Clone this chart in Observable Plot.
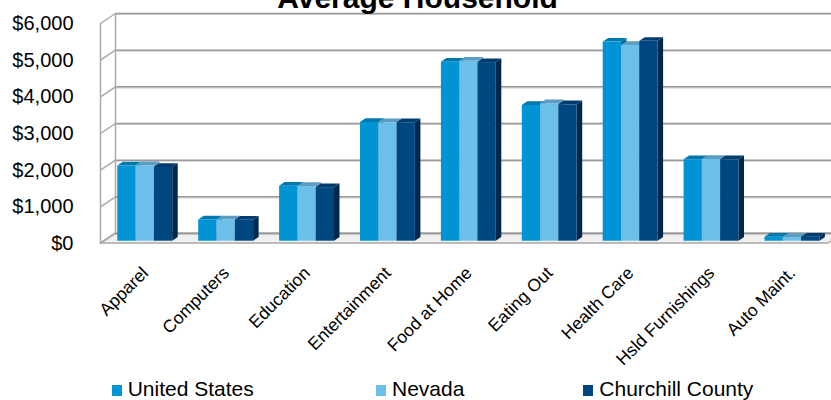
<!DOCTYPE html>
<html>
<head>
<meta charset="utf-8">
<script src="https://cdn.jsdelivr.net/npm/d3@7"></script>
<script src="https://cdn.jsdelivr.net/npm/@observablehq/plot@0.6"></script>
<style>
  html, body { margin: 0; padding: 0; background: #fff; overflow: hidden; }
  body { width: 831px; height: 400px; position: relative; font-family: "Liberation Sans", Arial, sans-serif; }
  #chart { position: absolute; left: 0; top: 0; }
  #title { position: absolute; left: 0; width: 835px; top: -17px; text-align: center;
           font-weight: bold; font-size: 30px; line-height: 30px; color: #000; }
  .key { position: absolute; top: 379px; font-size: 21px; line-height: 20px; color: #000; white-space: nowrap; }
  .key span { display: inline-block; width: 10px; height: 11px; margin-right: 6px; vertical-align: 0px; }
</style>
</head>
<body>
<div id="chart"></div>
<div id="title">Average Household</div>
<div id="legend"></div>
<script>
// Average household spending by category
const categories = ["Apparel", "Computers", "Education", "Entertainment", "Food at Home",
                    "Eating Out", "Health Care", "Hsld Furnishings", "Auto Maint."];
const unitedStates    = [2050, 580, 1500, 3240, 4880, 3700, 5430, 2220, 110];
const nevada          = [2060, 580, 1490, 3230, 4910, 3750, 5340, 2230, 100];
const churchillCounty = [2010, 570, 1460, 3230, 4870, 3720, 5450, 2220, 110];
const seriesNames = ["United States", "Nevada", "Churchill County"];
const yTicks = [0, 1000, 2000, 3000, 4000, 5000, 6000];

// Colours: front, top and side of each series' boxes
const palette = [
  {front: "#0094d4", top: "#0079ae", side: "#006a99"},
  {front: "#6cbfe8", top: "#5b9cc0", side: "#4f8cb0"},
  {front: "#004781", top: "#003c6d", side: "#00284d"}
];

// Scale geometry (pixels)
const xRange = [103.5, 831.6];           // category 0 .. 9 on the bar plane
const yRange = [240.7, 20.7];            // $0 .. $6,000 on the bar plane
const kx = (xRange[1] - xRange[0]) / 9;  // px per category
const ky = (yRange[0] - yRange[1]) / 6000; // px per dollar
const ux = px => px / kx;
const uy = px => px / ky;

// Box layout inside each category
const groupStart = ux(13.8);
const barW = ux(18.3);
const depthX = ux(5.5), depthY = uy(3.7);
// Offsets of the back wall and the front edge from the bar plane
const back = {dx: 11.5, dy: -7.7};
const front = {dx: -3.5, dy: 2.3};
const backX = ux(back.dx), backY = uy(-back.dy);
const frontX = ux(front.dx), frontY = -uy(front.dy);

const seriesValues = [unitedStates, nevada, churchillCounty];
const boxes = [];
seriesValues.forEach((vals, s) => {
  vals.forEach((v, i) => {
    const xl = i + groupStart + s * barW;
    boxes.push({s, i, category: categories[i], value: v, xl, xr: xl + barW});
  });
});

const tops = [], sides = [];
for (const b of boxes) {
  const id = b.s + "-" + b.i;
  tops.push({id, s: b.s, x1: b.xl, y1: b.value, x2: b.xl + depthX, y2: b.value + depthY});
  tops.push({id, s: b.s, x1: b.xr, y1: b.value, x2: b.xr + depthX, y2: b.value + depthY});
  sides.push({id, s: b.s, x1: b.xr, y1: 0, x2: b.xr + depthX, y2: depthY});
  sides.push({id, s: b.s, x1: b.xr, y1: b.value, x2: b.xr + depthX, y2: b.value + depthY});
}

// Floor outline
const floor = [
  {x1: frontX, y1: frontY, x2: backX, y2: backY},
  {x1: 9 + frontX, y1: frontY, x2: 9 + backX, y2: backY}
];

const gridColor = "#9a9a9a";
const marks = [
  Plot.area(floor, {x1: "x1", y1: "y1", x2: "x2", y2: "y2", fill: "#f0f0f0", stroke: "#a8a8a8", strokeWidth: 1.5}),
  Plot.ruleY(yTicks, {x1: 0, x2: 9.2, dx: back.dx, dy: back.dy + 1, stroke: "#d4d4d4", strokeWidth: 1.2}),
  Plot.ruleY(yTicks, {x1: 0, x2: 9.2, dx: back.dx, dy: back.dy, stroke: gridColor, strokeWidth: 1.5}),
  Plot.link(yTicks, {x1: frontX, y1: d => d + frontY, x2: backX, y2: d => d + backY, stroke: "#aaaaaa", strokeWidth: 1.5}),
  Plot.ruleX([0], {y1: 0, y2: 6000, dx: back.dx, dy: back.dy, stroke: "#aaaaaa", strokeWidth: 1.5}),
  Plot.ruleX([0], {y1: 0, y2: 6000, dx: front.dx, dy: front.dy, stroke: "#aaaaaa", strokeWidth: 1.5}),
];
for (let s = 0; s < 3; s++) {
  marks.push(Plot.area(sides.filter(d => d.s === s), {x1: "x1", y1: "y1", x2: "x2", y2: "y2", z: "id", fill: palette[s].side}));
}
for (let s = 0; s < 3; s++) {
  marks.push(Plot.area(tops.filter(d => d.s === s), {x1: "x1", y1: "y1", x2: "x2", y2: "y2", z: "id", fill: palette[s].top}));
}
for (let s = 0; s < 3; s++) {
  marks.push(Plot.rect(boxes.filter(d => d.s === s), {x1: "xl", x2: "xr", y1: () => 0, y2: "value", fill: palette[s].front}));
}
// Value axis labels on the front edge
marks.push(Plot.text(yTicks, {
  x: () => 0, y: d => d, text: d => "$" + d3.format(",")(d),
  textAnchor: "end", dx: -30.5, dy: front.dy, fontSize: 20, fill: "#000"
}));
// Rotated category labels
marks.push(Plot.text(categories, {
  x: (d, i) => i + 0.51, y: () => 0, text: d => d,
  rotate: -45, textAnchor: "end", dy: 29, fontSize: 17.5, fill: "#000"
}));

const chart = Plot.plot({
  width: 831,
  height: 372,
  marginLeft: 0, marginRight: 0, marginTop: 0, marginBottom: 0,
  x: {type: "linear", domain: [0, 9], range: xRange, axis: null},
  y: {type: "linear", domain: [0, 6000], range: yRange, axis: null},
  style: {fontFamily: "'Liberation Sans', Arial, sans-serif", background: "transparent", overflow: "visible"},
  marks
});
document.getElementById("chart").appendChild(chart);

// Legend
const legendLefts = [111.7, 376, 583.3];
const legend = document.getElementById("legend");
seriesNames.forEach((name, s) => {
  const item = document.createElement("div");
  item.className = "key";
  item.style.left = legendLefts[s] + "px";
  const sw = document.createElement("span");
  sw.style.background = palette[s].front;
  item.appendChild(sw);
  item.appendChild(document.createTextNode(name));
  legend.appendChild(item);
});
</script>
</body>
</html>
